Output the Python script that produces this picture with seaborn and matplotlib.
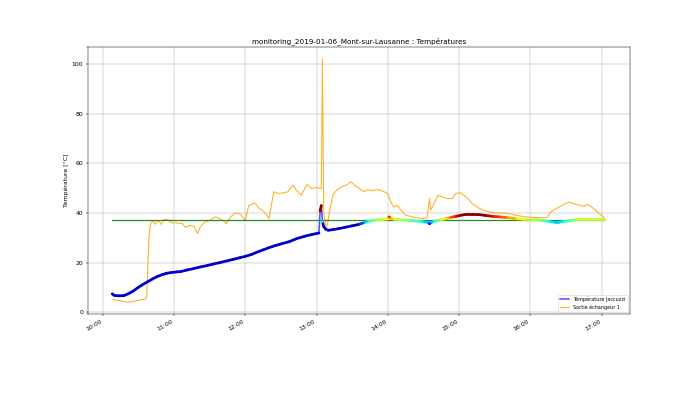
import numpy as np
import pandas as pd
import matplotlib
matplotlib.use("Agg")  # headless rendering
import matplotlib.pyplot as plt
import matplotlib.dates as mdates
from matplotlib.collections import LineCollection
from matplotlib.colors import Normalize
import seaborn as sns

DAY = "2019-01-06 "

# Température Jaccuzzi
jac_times = ["10:08", "10:10", "10:14", "10:18", "10:22", "10:26", "10:30", "10:34", "10:38", "10:42",
             "10:46", "10:50", "10:54", "10:58", "11:02", "11:06", "11:11", "11:16", "11:22", "11:28",
             "11:33", "11:38", "11:44", "11:50", "11:55", "12:00", "12:05", "12:10", "12:15", "12:20",
             "12:25", "12:30", "12:37", "12:43", "12:50", "12:56", "13:02", "13:03", "13:04", "13:05",
             "13:06", "13:08", "13:10", "13:14", "13:19", "13:25", "13:30", "13:35", "13:40", "13:44",
             "13:48", "13:52", "13:57", "14:00", "14:01", "14:03", "14:06", "14:10", "14:15", "14:20",
             "14:25", "14:30", "14:34", "14:35", "14:37", "14:41", "14:45", "14:49", "14:53", "14:57",
             "15:02", "15:06", "15:11", "15:17", "15:22", "15:28", "15:34", "15:40", "15:48", "15:56",
             "16:02", "16:07", "16:12", "16:16", "16:20", "16:24", "16:28", "16:32", "16:37", "16:41",
             "16:50", "16:58", "17:02"]
jac_temp = [7.4, 6.7, 6.6, 6.7, 7.5, 8.6, 10.0, 11.2, 12.3, 13.4,
            14.4, 15.1, 15.7, 16.0, 16.2, 16.4, 17.0, 17.5, 18.2, 18.8,
            19.4, 19.9, 20.6, 21.3, 21.9, 22.5, 23.2, 24.2, 25.1, 26.0,
            26.8, 27.5, 28.4, 29.6, 30.6, 31.3, 31.9, 40.8, 43.0, 36.5,
            34.5, 33.3, 33.0, 33.3, 33.7, 34.3, 34.8, 35.3, 36.1, 36.7,
            37.0, 37.3, 37.4, 37.6, 38.4, 37.8, 37.4, 37.3, 37.1, 36.9,
            36.7, 36.4, 36.2, 35.6, 36.3, 36.8, 37.3, 37.7, 38.2, 38.6,
            39.1, 39.4, 39.4, 39.3, 39.0, 38.6, 38.4, 38.1, 37.7, 37.3,
            37.3, 37.2, 36.8, 36.5, 36.3, 36.3, 36.5, 36.8, 37.1, 37.4,
            37.4, 37.4, 37.4]

# Sortie échangeur 1
out_times = ["10:08", "10:14", "10:21", "10:25", "10:29", "10:36", "10:37", "10:39", "10:40", "10:41",
             "10:43", "10:44", "10:47", "10:49", "10:52", "10:55", "10:58", "11:02", "11:07", "11:10",
             "11:13", "11:17", "11:20", "11:22", "11:26", "11:30", "11:35", "11:41", "11:44", "11:48",
             "11:52", "11:56", "12:00", "12:03", "12:08", "12:12", "12:16", "12:20", "12:24", "12:28",
             "12:32", "12:36", "12:40", "12:43", "12:47", "12:52", "12:56", "13:00", "13:04", "13:05",
             "13:06", "13:08", "13:09", "13:11", "13:14", "13:17", "13:21", "13:25", "13:29", "13:32",
             "13:36", "13:40", "13:43", "13:47", "13:51", "13:55", "14:00", "14:03", "14:05", "14:08",
             "14:11", "14:15", "14:21", "14:29", "14:33", "14:35", "14:36", "14:39", "14:42", "14:46",
             "14:50", "14:54", "14:57", "15:01", "15:06", "15:11", "15:17", "15:25", "15:34", "15:42",
             "15:47", "15:56", "16:07", "16:14", "16:17", "16:22", "16:27", "16:32", "16:38", "16:45",
             "16:48", "16:52", "16:58", "17:01", "17:03"]
out_temp = [5.1, 4.7, 4.0, 4.3, 4.7, 5.3, 6.1, 30.0, 35.0, 36.3,
            36.8, 35.4, 37.0, 35.4, 37.4, 37.3, 36.0, 36.0, 35.7, 34.1,
            35.0, 34.6, 31.7, 34.3, 36.3, 37.0, 38.4, 37.0, 35.7, 38.6,
            40.0, 39.5, 37.0, 43.0, 44.0, 41.8, 40.4, 37.7, 48.5, 47.8,
            48.1, 48.5, 51.2, 49.2, 47.1, 51.5, 49.8, 50.2, 49.8, 101.9,
            40.0, 34.1, 35.0, 41.0, 47.5, 49.2, 50.5, 51.2, 52.5, 51.2,
            49.8, 48.5, 49.4, 48.9, 49.4, 48.9, 47.8, 43.8, 42.4, 43.1,
            41.1, 39.1, 38.4, 37.7, 38.0, 45.8, 41.1, 43.8, 47.1, 46.4,
            45.8, 45.8, 47.8, 48.1, 46.4, 43.8, 41.8, 40.4, 40.0, 39.7,
            39.1, 38.4, 38.1, 38.1, 40.4, 41.8, 43.1, 44.4, 43.5, 42.7,
            43.4, 42.2, 39.7, 38.6, 37.3]

# consigne
set_times = ["10:08", "17:02"]
set_temp = [37.0, 37.0]

jac = pd.DataFrame({"time": pd.to_datetime([DAY + t for t in jac_times]), "temp": jac_temp})
out = pd.DataFrame({"time": pd.to_datetime([DAY + t for t in out_times]), "temp": out_temp})
cons = pd.DataFrame({"time": pd.to_datetime([DAY + t for t in set_times]), "temp": set_temp})

fig, ax = plt.subplots(figsize=(16, 393 / 43.75))

sns.lineplot(data=jac, x="time", y="temp", ax=ax, color="blue", linewidth=2.5, alpha=0.7,
             label="Température Jaccuzzi")
sns.lineplot(data=out, x="time", y="temp", ax=ax, color="orange", linewidth=1.8, alpha=0.85,
             label="Sortie échangeur 1")
sns.lineplot(data=cons, x="time", y="temp", ax=ax, color="forestgreen", linewidth=2)

# jacuzzi temperature coloured by value (jet), steep jumps stay as the thin blue line
cmap = plt.get_cmap("jet").copy()
cmap.set_under("mediumblue")
norm = Normalize(35, 39)
xs = mdates.date2num(jac["time"])
ys = jac["temp"].to_numpy()
pts = np.column_stack([xs, ys])
segs = np.stack([pts[:-1], pts[1:]], axis=1)
widths = np.where(np.abs(np.diff(ys)) > 3, 0, 4.5)
lc = LineCollection(segs, cmap=cmap, norm=norm, linewidths=widths, zorder=3)
lc.set_array((ys[:-1] + ys[1:]) / 2)
ax.add_collection(lc)
sns.scatterplot(data=jac, x="time", y="temp", hue="temp", palette=cmap, hue_norm=norm,
                ax=ax, s=18, linewidth=0, legend=False, zorder=4)

ax.xaxis.set_major_locator(mdates.HourLocator())
ax.xaxis.set_major_formatter(mdates.DateFormatter("%H:%M"))
fig.autofmt_xdate()
ax.grid(True)
ax.set_xlabel("")
ax.set_ylabel("Température [°C]")
ax.set_title("monitoring_2019-01-06_Mont-sur-Lausanne : Températures")
ax.legend(loc="lower right", fontsize=8)

fig.savefig("out.png", dpi=43.75)
plt.close()
